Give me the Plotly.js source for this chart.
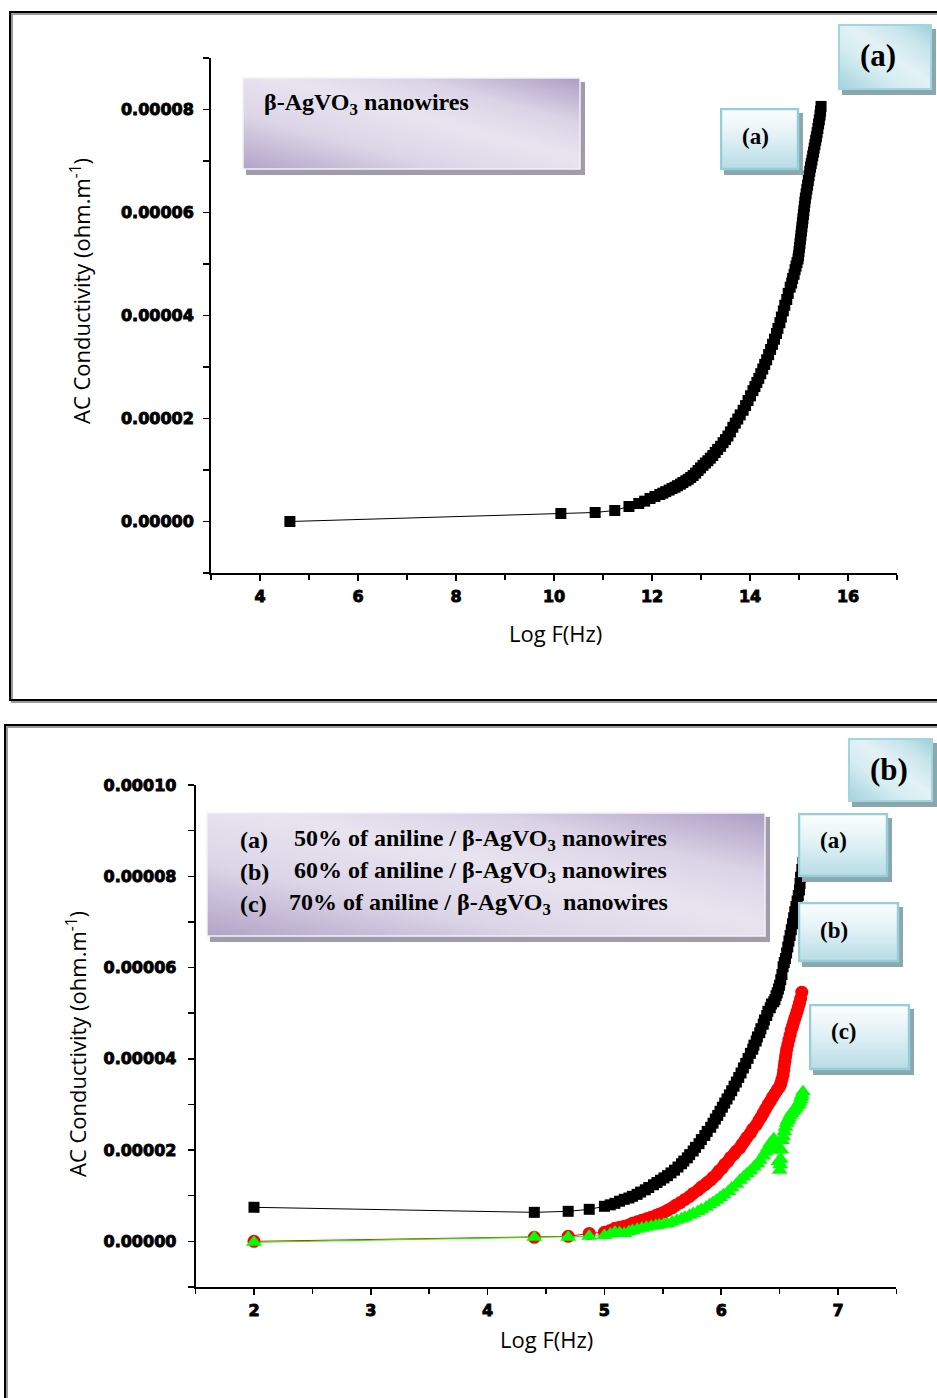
<!DOCTYPE html>
<html>
<head>
<meta charset="utf-8">
<script src="https://cdn.plot.ly/plotly-3.0.1.min.js"></script>
<style>
html,body{margin:0;padding:0;background:#fff;}
#chart{width:937px;height:1398px;}
#chart .xaxislayer-above text, #chart .yaxislayer-above text{stroke:#000;stroke-width:0.9px;}
</style>
</head>
<body>
<div id="chart"></div>
<script>
// ---------------- DATA ----------------
// Panel (a): beta-AgVO3 nanowires
const xA = [4.61, 10.14, 10.84, 11.24, 11.53, 11.73, 11.85, 11.96, 12.06, 12.16, 12.22, 12.28, 12.35, 12.41, 12.47, 12.52, 12.58, 12.63, 12.69, 12.74, 12.79, 12.84, 12.89, 12.94, 12.99, 13.04, 13.09, 13.14, 13.19, 13.24, 13.29, 13.34, 13.40, 13.45, 13.50, 13.55, 13.60, 13.65, 13.70, 13.75, 13.80, 13.86, 13.91, 13.96, 14.01, 14.06, 14.10, 14.14, 14.18, 14.22, 14.26, 14.30, 14.34, 14.38, 14.42, 14.46, 14.50, 14.54, 14.57, 14.61, 14.64, 14.68, 14.71, 14.75, 14.78, 14.82, 14.85, 14.87, 14.90, 14.92, 14.94, 14.96, 14.98, 14.99, 15.00, 15.01, 15.02, 15.03, 15.04, 15.05, 15.06, 15.07, 15.08, 15.09, 15.10, 15.11, 15.12, 15.13, 15.145, 15.16, 15.175, 15.19, 15.205, 15.22, 15.235, 15.25, 15.265, 15.28, 15.295, 15.31, 15.325, 15.34, 15.355, 15.37, 15.385, 15.40, 15.415, 15.43, 15.44, 15.45];
const yA = [0, 1.55e-6, 1.75e-6, 2.14e-6, 2.91e-6, 3.50e-6, 3.95e-6, 4.47e-6, 4.85e-6, 5.24e-6, 5.5e-6, 5.80e-6, 6.1e-6, 6.40e-6, 6.65e-6, 6.95e-6, 7.25e-6, 7.57e-6, 7.9e-6, 8.20e-6, 8.55e-6, 8.93e-6, 9.4e-6, 9.90e-6, 10.4e-6, 10.9e-6, 11.35e-6, 11.8e-6, 12.3e-6, 12.8e-6, 13.4e-6, 14.0e-6, 14.6e-6, 15.3e-6, 15.9e-6, 16.6e-6, 17.4e-6, 18.3e-6, 19.1e-6, 19.9e-6, 20.7e-6, 21.6e-6, 22.5e-6, 23.5e-6, 24.4e-6, 25.4e-6, 26.2e-6, 27.0e-6, 27.8e-6, 28.7e-6, 29.6e-6, 30.5e-6, 31.4e-6, 32.4e-6, 33.4e-6, 34.4e-6, 35.4e-6, 36.5e-6, 37.5e-6, 38.6e-6, 39.7e-6, 40.9e-6, 42.0e-6, 43.1e-6, 44.3e-6, 45.5e-6, 46.3e-6, 47.2e-6, 48.0e-6, 48.9e-6, 49.6e-6, 50.3e-6, 51.0e-6, 51.6e-6, 52.4e-6, 53.2e-6, 54.0e-6, 54.8e-6, 55.6e-6, 56.4e-6, 57.2e-6, 58.0e-6, 58.8e-6, 59.6e-6, 60.4e-6, 61.2e-6, 62.0e-6, 62.8e-6, 63.6e-6, 64.5e-6, 65.3e-6, 66.2e-6, 67.1e-6, 68.0e-6, 68.8e-6, 69.5e-6, 70.2e-6, 71.0e-6, 71.7e-6, 72.5e-6, 73.2e-6, 74.0e-6, 74.7e-6, 75.5e-6, 76.3e-6, 77.2e-6, 78.0e-6, 78.9e-6, 79.7e-6, 80.6e-6];

// Panel (b): (a) 50%, (b) 60%, (c) 70% aniline / beta-AgVO3 nanowires
const xB50 = [2, 4.40, 4.69, 4.87, 5.00, 5.05, 5.09, 5.13, 5.17, 5.21, 5.24, 5.28, 5.31, 5.35, 5.38, 5.42, 5.45, 5.48, 5.51, 5.54, 5.57, 5.60, 5.63, 5.66, 5.68, 5.71, 5.73, 5.76, 5.78, 5.81, 5.83, 5.86, 5.88, 5.91, 5.93, 5.95, 5.97, 5.99, 6.01, 6.03, 6.05, 6.07, 6.09, 6.11, 6.13, 6.15, 6.17, 6.19, 6.21, 6.23, 6.25, 6.27, 6.28, 6.30, 6.31, 6.33, 6.34, 6.36, 6.37, 6.39, 6.40, 6.42, 6.43, 6.45, 6.46, 6.47, 6.48, 6.49, 6.50, 6.51, 6.52, 6.53, 6.54, 6.55, 6.56, 6.57, 6.58, 6.59, 6.60, 6.61, 6.62, 6.63, 6.64, 6.65, 6.66, 6.67, 6.675, 6.68, 6.69, 6.70];
const yB50 = [7.46e-6, 6.36e-6, 6.58e-6, 7.02e-6, 7.68e-6, 8.0e-6, 8.33e-6, 8.8e-6, 9.21e-6, 9.5e-6, 9.87e-6, 10.3e-6, 10.8e-6, 11.3e-6, 11.8e-6, 12.4e-6, 12.9e-6, 13.4e-6, 13.9e-6, 14.4e-6, 15.0e-6, 15.6e-6, 16.3e-6, 17.0e-6, 17.6e-6, 18.3e-6, 19.0e-6, 19.8e-6, 20.6e-6, 21.4e-6, 22.3e-6, 23.2e-6, 24.1e-6, 25.0e-6, 25.9e-6, 26.8e-6, 27.6e-6, 28.5e-6, 29.4e-6, 30.3e-6, 31.2e-6, 32.1e-6, 33.0e-6, 34.0e-6, 34.9e-6, 35.9e-6, 36.9e-6, 38.0e-6, 39.0e-6, 40.1e-6, 41.2e-6, 42.1e-6, 43.0e-6, 43.9e-6, 44.8e-6, 45.7e-6, 46.6e-6, 47.6e-6, 48.5e-6, 49.5e-6, 50.4e-6, 51.2e-6, 52.0e-6, 52.5e-6, 53.0e-6, 53.8e-6, 54.5e-6, 55.3e-6, 56.1e-6, 57.3e-6, 58.5e-6, 60.2e-6, 61.1e-6, 62.0e-6, 63.2e-6, 64.5e-6, 65.8e-6, 67.0e-6, 68.3e-6, 69.6e-6, 70.9e-6, 72.2e-6, 73.4e-6, 74.6e-6, 75.8e-6, 77.0e-6, 78.4e-6, 79.8e-6, 81.5e-6, 83.1e-6];

const xB60 = [2, 4.40, 4.69, 4.87, 5.00, 5.05, 5.09, 5.13, 5.17, 5.21, 5.24, 5.28, 5.32, 5.36, 5.40, 5.44, 5.47, 5.51, 5.54, 5.58, 5.61, 5.65, 5.69, 5.73, 5.76, 5.80, 5.83, 5.86, 5.88, 5.91, 5.93, 5.96, 5.98, 6.01, 6.03, 6.06, 6.08, 6.11, 6.13, 6.16, 6.18, 6.20, 6.22, 6.25, 6.27, 6.30, 6.32, 6.34, 6.36, 6.38, 6.40, 6.42, 6.44, 6.46, 6.48, 6.50, 6.51, 6.52, 6.53, 6.535, 6.54, 6.545, 6.55, 6.555, 6.56, 6.57, 6.58, 6.59, 6.60, 6.61, 6.62, 6.63, 6.64, 6.65, 6.66, 6.67, 6.68, 6.69];
const yB60 = [0, 0.88e-6, 1.1e-6, 1.75e-6, 2.0e-6, 2.4e-6, 2.85e-6, 3.1e-6, 3.3e-6, 3.6e-6, 3.95e-6, 4.3e-6, 4.6e-6, 4.95e-6, 5.3e-6, 5.65e-6, 6.0e-6, 6.4e-6, 6.8e-6, 7.35e-6, 7.9e-6, 8.5e-6, 9.2e-6, 9.85e-6, 10.5e-6, 11.2e-6, 11.9e-6, 12.4e-6, 12.9e-6, 13.45e-6, 14.0e-6, 14.7e-6, 15.4e-6, 16.1e-6, 16.9e-6, 17.6e-6, 18.4e-6, 19.1e-6, 19.8e-6, 20.5e-6, 21.3e-6, 22.0e-6, 22.8e-6, 23.7e-6, 24.6e-6, 25.5e-6, 26.4e-6, 27.2e-6, 28.1e-6, 29.0e-6, 29.9e-6, 30.7e-6, 31.6e-6, 32.4e-6, 33.2e-6, 33.9e-6, 34.6e-6, 35.5e-6, 36.5e-6, 37.5e-6, 38.5e-6, 39.4e-6, 40.3e-6, 41.1e-6, 42.0e-6, 43.1e-6, 44.2e-6, 45.2e-6, 46.3e-6, 47.1e-6, 48.0e-6, 48.8e-6, 49.6e-6, 50.4e-6, 51.3e-6, 52.2e-6, 53.2e-6, 54.6e-6];

const xB70 = [2, 4.40, 4.69, 4.87, 5.00, 5.05, 5.09, 5.13, 5.17, 5.21, 5.24, 5.28, 5.32, 5.36, 5.40, 5.44, 5.47, 5.51, 5.54, 5.58, 5.62, 5.66, 5.69, 5.73, 5.76, 5.80, 5.83, 5.87, 5.90, 5.93, 5.96, 5.99, 6.02, 6.06, 6.09, 6.13, 6.16, 6.19, 6.22, 6.25, 6.28, 6.31, 6.33, 6.36, 6.38, 6.40, 6.42, 6.44, 6.45, 6.47, 6.48, 6.49, 6.50, 6.505, 6.51, 6.515, 6.52, 6.53, 6.54, 6.55, 6.56, 6.57, 6.58, 6.59, 6.60, 6.61, 6.62, 6.63, 6.64, 6.65, 6.66, 6.67, 6.68, 6.685, 6.69, 6.70];
const yB70 = [-0.2e-6, 0.88e-6, 0.88e-6, 1.1e-6, 1.3e-6, 1.6e-6, 2.0e-6, 1.9e-6, 1.75e-6, 2.1e-6, 2.4e-6, 2.65e-6, 2.9e-6, 3.1e-6, 3.3e-6, 3.45e-6, 3.6e-6, 3.75e-6, 3.9e-6, 4.25e-6, 4.6e-6, 4.95e-6, 5.3e-6, 5.7e-6, 6.1e-6, 6.55e-6, 7.0e-6, 7.5e-6, 8.0e-6, 8.5e-6, 9.0e-6, 9.6e-6, 10.2e-6, 10.9e-6, 11.7e-6, 12.5e-6, 13.4e-6, 14.1e-6, 14.8e-6, 15.5e-6, 16.3e-6, 17.0e-6, 17.8e-6, 18.7e-6, 19.6e-6, 20.5e-6, 21.5e-6, 22.0e-6, 22.5e-6, 21.2e-6, 20.0e-6, 17.5e-6, 15.6e-6, 16.8e-6, 18.0e-6, 20.0e-6, 22.1e-6, 23.0e-6, 24.0e-6, 25.0e-6, 25.9e-6, 26.5e-6, 27.0e-6, 27.5e-6, 28.0e-6, 28.4e-6, 28.7e-6, 29.0e-6, 29.3e-6, 29.7e-6, 30.0e-6, 30.5e-6, 31.0e-6, 31.5e-6, 32.0e-6, 32.8e-6];

// Ticks
const xTicksA = [4, 6, 8, 10, 12, 14, 16];
const xTickTextA = ['4', '6', '8', '10', '12', '14', '16'];
const xMinorA = [3, 5, 7, 9, 11, 13, 15, 17];
const yTicksA = [0, 0.00002, 0.00004, 0.00006, 0.00008];
const yTickTextA = ['0.00000', '0.00002', '0.00004', '0.00006', '0.00008'];
const yMinorA = [-0.00001, 0.00001, 0.00003, 0.00005, 0.00007, 0.00009];

const xTicksB = [2, 3, 4, 5, 6, 7];
const xTickTextB = ['2', '3', '4', '5', '6', '7'];
const xMinorB = [1.5, 2.5, 3.5, 4.5, 5.5, 6.5, 7.5];
const yTicksB = [0, 0.00002, 0.00004, 0.00006, 0.00008, 0.0001];
const yTickTextB = ['0.00000', '0.00002', '0.00004', '0.00006', '0.00008', '0.00010'];
const yMinorB = [-0.00001, 0.00001, 0.00003, 0.00005, 0.00007, 0.00009];

// Text
const xTitle = 'Log F(Hz)';
const yTitle = 'AC Conductivity (ohm.m<sup>-1</sup>)';
const boxTextA = 'β-AgVO<sub>3</sub> nanowires';
const legendLabels = ['(a)', '(b)', '(c)'];
const legendTexts = ['50% of aniline / β-AgVO<sub>3</sub> nanowires', '60% of aniline / β-AgVO<sub>3</sub> nanowires', '70% of aniline / β-AgVO<sub>3</sub>  nanowires'];

// ---------------- LAYOUT HELPERS ----------------
const W = 937, H = 1398;
const px = x => x / W;
const py = y => 1 - y / H;

function boxSvg(w, h, kind) {
  const sx = 4, sy = 5;
  let grad, stroke, shadow, sw;
  if (kind === 'purple') {
    grad = '<linearGradient id="g" x1="0" y1="1" x2="1" y2="0">' +
      '<stop offset="0" stop-color="#b2a3c7"/><stop offset="0.3" stop-color="#dcd5e7"/>' +
      '<stop offset="0.55" stop-color="#e8e4ef"/><stop offset="0.75" stop-color="#dbd3e6"/>' +
      '<stop offset="1" stop-color="#ad9ec4"/></linearGradient>';
    stroke = '#f3f1f7'; shadow = '#a19bac'; sw = 1.5;
  } else if (kind === 'bigblue') {
    grad = '<linearGradient id="g" x1="0" y1="1" x2="1" y2="0">' +
      '<stop offset="0" stop-color="#a3d2dd"/><stop offset="0.35" stop-color="#d6edf2"/>' +
      '<stop offset="0.55" stop-color="#e3f1f5"/><stop offset="0.8" stop-color="#c7e4eb"/>' +
      '<stop offset="1" stop-color="#9ccfdb"/></linearGradient>';
    stroke = '#a3d5df'; shadow = '#8aa7ae'; sw = 2;
  } else {
    grad = '<linearGradient id="g" x1="0" y1="0" x2="0" y2="1">' +
      '<stop offset="0" stop-color="#fdfefe"/><stop offset="0.45" stop-color="#e2f1f5"/>' +
      '<stop offset="1" stop-color="#b7dce5"/></linearGradient>';
    stroke = '#95cdd8'; shadow = '#8aa7ae'; sw = 2.5;
  }
  const svg = '<svg xmlns="http://www.w3.org/2000/svg" width="' + (w + sx) + '" height="' + (h + sy) +
    '" viewBox="0 0 ' + (w + sx) + ' ' + (h + sy) + '" preserveAspectRatio="none"><defs>' + grad + '</defs>' +
    '<rect x="' + sx + '" y="' + sy + '" width="' + w + '" height="' + h + '" fill="' + shadow + '"/>' +
    '<rect x="1" y="1" width="' + (w - 2) + '" height="' + (h - 2) + '" fill="url(#g)" stroke="' + stroke + '" stroke-width="' + sw + '"/></svg>';
  return {
    source: 'data:image/svg+xml;charset=utf-8,' + encodeURIComponent(svg),
    xref: 'paper', yref: 'paper', x: px(0), y: py(0),
    sizex: (w + sx) / W, sizey: (h + sy) / H,
    xanchor: 'left', yanchor: 'top', sizing: 'stretch', layer: 'above'
  };
}
function placeBox(left, top, right, bottom, kind) {
  const im = boxSvg(right - left, bottom - top, kind);
  im.x = px(left); im.y = py(top);
  return im;
}
function ann(text, x, y, size, opts) {
  return Object.assign({
    xref: 'paper', yref: 'paper', x: px(x), y: py(y), text: text, showarrow: false,
    xanchor: 'left', yanchor: 'middle',
    font: {family: 'Liberation Serif, Times New Roman, serif', size: size, color: '#000'}
  }, opts || {});
}

const tickFont = {family: 'DejaVu Sans', size: 16, weight: 'bold', color: '#000'};
function axisCommon() {
  return {
    showgrid: false, zeroline: false, showline: true, linewidth: 2, linecolor: '#000',
    ticks: 'outside', ticklen: 6, tickwidth: 1.5, tickcolor: '#000', tickfont: tickFont,
    tickmode: 'array', fixedrange: true
  };
}
const titleFont = {family: 'Open Sans', size: 22, color: '#000'};

// ---------------- TRACES ----------------
const traces = [
  {x: xA, y: yA, xaxis: 'x', yaxis: 'y', mode: 'lines+markers', name: 'β-AgVO3 nanowires',
   line: {color: '#000', width: 1}, marker: {symbol: 'square', size: 11, color: '#000'}},
  {x: xB50, y: yB50, xaxis: 'x2', yaxis: 'y2', mode: 'lines+markers', name: '(a)',
   line: {color: '#000', width: 1}, marker: {symbol: 'square', size: 11, color: '#000'}},
  {x: xB60, y: yB60, xaxis: 'x2', yaxis: 'y2', mode: 'lines+markers', name: '(b)',
   line: {color: '#ff0000', width: 1}, marker: {symbol: 'circle', size: 13, color: '#ff0000'}},
  {x: xB70, y: yB70, xaxis: 'x2', yaxis: 'y2', mode: 'lines+markers', name: '(c)',
   line: {color: '#00ff00', width: 1}, marker: {symbol: 'triangle-up', size: 14, color: '#00ff00'}}
];

// ---------------- LAYOUT ----------------
const layout = {
  width: W, height: H, margin: {l: 0, r: 0, t: 0, b: 0},
  paper_bgcolor: '#fff', plot_bgcolor: 'rgba(0,0,0,0)', showlegend: false,
  xaxis: Object.assign(axisCommon(), {
    domain: [px(211), px(897)], range: [3, 17], anchor: 'y',
    tickvals: xTicksA, ticktext: xTickTextA, ticklabelstandoff: 2,
    minor: {tickmode: 'array', tickvals: xMinorA, ticks: 'outside', ticklen: 5, tickwidth: 1.5, tickcolor: '#000'}
  }),
  yaxis: Object.assign(axisCommon(), {
    domain: [py(573), py(58)], range: [-0.00001, 0.00009], anchor: 'x',
    tickvals: yTicksA, ticktext: yTickTextA, ticklabelstandoff: 6,
    minor: {tickmode: 'array', tickvals: yMinorA, ticks: 'outside', ticklen: 6, tickwidth: 1.5, tickcolor: '#000'}
  }),
  xaxis2: Object.assign(axisCommon(), {
    domain: [px(195.6), px(896.4)], range: [1.5, 7.5], anchor: 'y2',
    tickvals: xTicksB, ticktext: xTickTextB, ticklabelstandoff: 2,
    minor: {tickmode: 'array', tickvals: xMinorB, ticks: 'outside', ticklen: 5, tickwidth: 1.5, tickcolor: '#000'}
  }),
  yaxis2: Object.assign(axisCommon(), {
    domain: [py(1287), py(785)], range: [-0.00001, 0.0001], anchor: 'x2',
    tickvals: yTicksB, ticktext: yTickTextB, ticklabelstandoff: 8,
    minor: {tickmode: 'array', tickvals: yMinorB, ticks: 'outside', ticklen: 6, tickwidth: 1.5, tickcolor: '#000'}
  }),
  shapes: [
    {type: 'rect', xref: 'paper', yref: 'paper', x0: px(12), x1: px(960), y0: py(702), y1: py(14),
     line: {color: '#9a9a9a', width: 2}, fillcolor: 'rgba(0,0,0,0)', layer: 'below'},
    {type: 'rect', xref: 'paper', yref: 'paper', x0: px(10), x1: px(960), y0: py(700), y1: py(12),
     line: {color: '#000', width: 2}, fillcolor: 'rgba(0,0,0,0)', layer: 'below'},
    {type: 'rect', xref: 'paper', yref: 'paper', x0: px(7), x1: px(960), y0: py(1420), y1: py(727),
     line: {color: '#9a9a9a', width: 2}, fillcolor: 'rgba(0,0,0,0)', layer: 'below'},
    {type: 'rect', xref: 'paper', yref: 'paper', x0: px(5), x1: px(960), y0: py(1420), y1: py(725),
     line: {color: '#000', width: 2}, fillcolor: 'rgba(0,0,0,0)', layer: 'below'}
  ],
  images: [
    placeBox(242, 77, 581, 170, 'purple'),
    placeBox(838, 24, 932, 90, 'bigblue'),
    placeBox(720, 108, 799, 170, 'smallblue'),
    placeBox(206, 812, 766, 937, 'purple'),
    placeBox(848, 738, 933, 802, 'bigblue'),
    placeBox(798, 813, 888, 877, 'smallblue'),
    placeBox(798, 902, 899, 962, 'smallblue'),
    placeBox(809, 1004, 910, 1070, 'smallblue')
  ],
  annotations: [
    ann(xTitle, 555, 633, 22, {xanchor: 'center', font: titleFont}),
    ann(yTitle, 80, 291, 22, {xanchor: 'center', textangle: -90, font: titleFont}),
    ann(xTitle, 546, 1339, 22, {xanchor: 'center', font: titleFont}),
    ann(yTitle, 76, 1044, 22, {xanchor: 'center', textangle: -90, font: titleFont}),
    ann('<b>' + boxTextA + '</b>', 262, 104, 24),
    ann('<b>(a)</b>', 878, 56, 31, {xanchor: 'center'}),
    ann('<b>(a)</b>', 755, 136, 23, {xanchor: 'center'}),
    ann('<b>(b)</b>', 889, 770, 31, {xanchor: 'center'}),
    ann('<b>(a)</b>', 833, 840, 23, {xanchor: 'center'}),
    ann('<b>(b)</b>', 834, 930, 23, {xanchor: 'center'}),
    ann('<b>(c)</b>', 844, 1031, 23, {xanchor: 'center'}),
    ann('<b>' + legendLabels[0] + '</b>', 238, 840, 24),
    ann('<b>' + legendTexts[0] + '</b>', 292, 840, 24),
    ann('<b>' + legendLabels[1] + '</b>', 238, 872, 24),
    ann('<b>' + legendTexts[1] + '</b>', 292, 872, 24),
    ann('<b>' + legendLabels[2] + '</b>', 238, 904, 24),
    ann('<b>' + legendTexts[2] + '</b>', 287, 904, 24)
  ]
};

Plotly.newPlot('chart', traces, layout, {staticPlot: true, displayModeBar: false});
</script>
</body>
</html>
